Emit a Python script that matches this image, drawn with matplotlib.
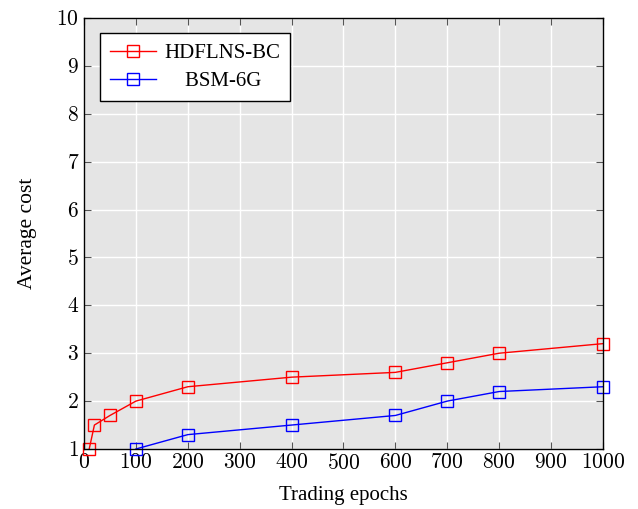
import matplotlib
matplotlib.use("Agg")
import matplotlib.pyplot as plt
from matplotlib.ticker import FuncFormatter

# data
x_hdflns = [10, 20, 50, 100, 200, 400, 600, 700, 800, 1000]
y_hdflns = [1.0, 1.5, 1.7, 2.0, 2.3, 2.5, 2.6, 2.8, 3.0, 3.2]
x_bsm = [100, 200, 400, 600, 700, 800, 1000]
y_bsm = [1.0, 1.3, 1.5, 1.7, 2.0, 2.2, 2.3]

plt.rcParams['font.family'] = ['Liberation Serif', 'DejaVu Serif']
plt.rcParams['mathtext.fontset'] = 'cm'

fig = plt.figure(figsize=(6.38, 5.09), dpi=100)
ax = fig.add_axes([0.1317, 0.1179, 0.8133, 0.8467])
ax.set_facecolor('#e5e5e5')
ax.grid(True, color='white', linewidth=1.0)
ax.set_axisbelow(True)

ax.plot(x_hdflns, y_hdflns, color='red', marker='s', markersize=8,
        markerfacecolor='none', markeredgewidth=1.0, linewidth=1.0,
        label='HDFLNS-BC', clip_on=False, zorder=3)
ax.plot(x_bsm, y_bsm, color='blue', marker='s', markersize=8,
        markerfacecolor='none', markeredgewidth=1.0, linewidth=1.0,
        label='    BSM-6G', clip_on=False, zorder=3)

ax.set_xlim(0, 1000)
ax.set_ylim(1, 10)
ax.set_xticks(range(0, 1001, 100))
ax.set_yticks(range(1, 11))
fmt = FuncFormatter(lambda v, p: r'$%d$' % v)
ax.xaxis.set_major_formatter(fmt)
ax.yaxis.set_major_formatter(fmt)
ax.tick_params(direction='in', length=5, width=0.8, labelsize=15.5, top=True, right=True,
               colors='#555555', labelcolor='black')
for s in ax.spines.values():
    s.set_linewidth(1.0)
    s.set_zorder(4)

ax.set_xlabel('Trading epochs', fontsize=15, labelpad=9)
ax.set_ylabel('Average cost', fontsize=15.5, labelpad=14)

leg = ax.legend(loc='upper left', fontsize=15, handlelength=2.2, handletextpad=0.4,
                borderpad=0.5, labelspacing=0.4, fancybox=False, edgecolor='black',
                framealpha=1, bbox_to_anchor=(0.03, 0.965), borderaxespad=0)
leg.get_frame().set_linewidth(1.0)

fig.savefig('out.png', dpi=100)
